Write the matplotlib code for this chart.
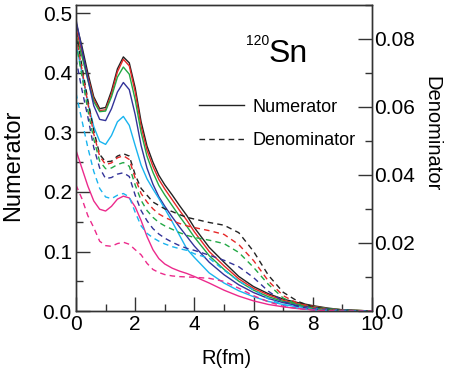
import matplotlib.pyplot as plt
from matplotlib.lines import Line2D
from matplotlib.ticker import MultipleLocator

plt.rcParams['font.family'] = ['Liberation Sans', 'DejaVu Sans']

# radius grid (fm)
r = [0, 0.2, 0.4, 0.6, 0.8, 1.0, 1.2, 1.4, 1.6, 1.8, 2.0, 2.2, 2.4, 2.6, 2.8, 3.0,
     3.25, 3.5, 3.75, 4.0, 4.5, 5.0, 5.5, 6.0, 6.5, 7.0, 7.5, 8.0, 8.5, 9.0, 9.5, 10.0]

colors = ['#222222', '#e62828', '#22a845', '#333399', '#19b4ef', '#ec2a8c']

# numerator curves (left axis)
num_black = [0.485, 0.445, 0.400, 0.360, 0.340, 0.342, 0.370, 0.407, 0.427, 0.417, 0.375, 0.318,
             0.277, 0.250, 0.228, 0.212, 0.195, 0.177, 0.160, 0.140, 0.107, 0.082, 0.058, 0.041,
             0.029, 0.020, 0.014, 0.009, 0.005, 0.002, 0.001, 0.0]
num_red = [0.475, 0.435, 0.393, 0.356, 0.337, 0.338, 0.365, 0.402, 0.423, 0.412, 0.368, 0.310,
           0.270, 0.243, 0.221, 0.205, 0.187, 0.169, 0.152, 0.133, 0.100, 0.076, 0.054, 0.038,
           0.027, 0.018, 0.012, 0.008, 0.004, 0.002, 0.001, 0.0]
num_green = [0.465, 0.428, 0.388, 0.352, 0.335, 0.336, 0.360, 0.393, 0.410, 0.398, 0.355, 0.300,
             0.260, 0.233, 0.211, 0.195, 0.177, 0.159, 0.142, 0.124, 0.093, 0.070, 0.050, 0.035,
             0.024, 0.016, 0.011, 0.007, 0.004, 0.002, 0.001, 0.0]
num_navy = [0.490, 0.440, 0.390, 0.345, 0.322, 0.320, 0.340, 0.368, 0.384, 0.372, 0.330, 0.278,
            0.240, 0.213, 0.192, 0.176, 0.158, 0.141, 0.125, 0.109, 0.082, 0.061, 0.044, 0.031,
            0.021, 0.014, 0.009, 0.006, 0.003, 0.0015, 0.0005, 0.0]
num_cyan = [0.450, 0.400, 0.350, 0.310, 0.285, 0.280, 0.295, 0.318, 0.327, 0.312, 0.278, 0.245,
            0.222, 0.205, 0.189, 0.172, 0.150, 0.127, 0.104, 0.090, 0.064, 0.047, 0.034, 0.024,
            0.016, 0.011, 0.007, 0.004, 0.002, 0.001, 0.0005, 0.0]
num_magenta = [0.270, 0.240, 0.210, 0.185, 0.171, 0.168, 0.176, 0.188, 0.193, 0.190, 0.175, 0.152,
               0.125, 0.103, 0.088, 0.079, 0.072, 0.067, 0.063, 0.058, 0.047, 0.035, 0.025, 0.017,
               0.011, 0.007, 0.004, 0.002, 0.001, 0.0005, 0.0002, 0.0]

# denominator curves (right axis)
den_black = [0.082, 0.072, 0.062, 0.053, 0.046, 0.0438, 0.044, 0.0455, 0.0462, 0.0455, 0.040, 0.036,
             0.034, 0.032, 0.031, 0.030, 0.0292, 0.0283, 0.0275, 0.027, 0.026, 0.0252, 0.023, 0.0175,
             0.0105, 0.0055, 0.0028, 0.0012, 0.0005, 0.0002, 0.0001, 0.0]
den_red = [0.081, 0.071, 0.061, 0.052, 0.0455, 0.043, 0.0435, 0.045, 0.0456, 0.0445, 0.039, 0.0345,
           0.032, 0.030, 0.0285, 0.0275, 0.0265, 0.0257, 0.025, 0.0245, 0.0236, 0.0225, 0.0195, 0.0148,
           0.0088, 0.0045, 0.0022, 0.001, 0.0004, 0.0002, 0.0001, 0.0]
den_green = [0.079, 0.069, 0.059, 0.0505, 0.044, 0.0418, 0.042, 0.043, 0.0436, 0.0425, 0.037, 0.0325,
             0.0295, 0.0275, 0.026, 0.025, 0.024, 0.023, 0.0222, 0.0216, 0.0208, 0.0198, 0.0172, 0.0128,
             0.0078, 0.0038, 0.0018, 0.0008, 0.0003, 0.0001, 0.0, 0.0]
den_navy = [0.074, 0.065, 0.057, 0.048, 0.042, 0.0389, 0.0392, 0.0402, 0.0406, 0.0395, 0.034, 0.0295,
            0.0265, 0.0242, 0.0226, 0.0214, 0.0202, 0.0192, 0.0184, 0.0178, 0.0164, 0.0149, 0.013, 0.0098,
            0.0058, 0.0028, 0.0013, 0.0006, 0.0002, 0.0001, 0.0, 0.0]
den_cyan = [0.064, 0.056, 0.048, 0.041, 0.036, 0.0335, 0.033, 0.034, 0.0345, 0.0335, 0.029, 0.025,
            0.0228, 0.0215, 0.0205, 0.0197, 0.0189, 0.0183, 0.0178, 0.0168, 0.0155, 0.012, 0.0088, 0.0062,
            0.0036, 0.0018, 0.0008, 0.0003, 0.0001, 0.0, 0.0, 0.0]
den_magenta = [0.037, 0.033, 0.028, 0.0245, 0.0205, 0.0192, 0.019, 0.0198, 0.0202, 0.0196, 0.018, 0.0165,
               0.014, 0.0122, 0.0113, 0.0107, 0.0103, 0.0101, 0.010, 0.0099, 0.0096, 0.0087, 0.0067, 0.0045,
               0.0027, 0.0014, 0.0007, 0.0003, 0.0001, 0.0, 0.0, 0.0]

numerators = [num_black, num_red, num_green, num_navy, num_cyan, num_magenta]
denominators = [den_black, den_red, den_green, den_navy, den_cyan, den_magenta]

fig = plt.figure(figsize=(4.51, 3.79), dpi=100)
ax = fig.add_axes([0.1685, 0.1794, 0.6563, 0.8086])
ax2 = ax.twinx()

for c, yn, yd in zip(colors, numerators, denominators):
    ax.plot(r, yn, color=c, lw=1.0)
    ax2.plot(r, yd, color=c, lw=1.0, dashes=(4, 3))

ax.set_xlim(0, 10)
ax.set_ylim(0, 0.515)
ax2.set_ylim(0, 0.09)

ax.xaxis.set_major_locator(MultipleLocator(2))
ax.xaxis.set_minor_locator(MultipleLocator(1))
ax.yaxis.set_major_locator(MultipleLocator(0.1))
ax.yaxis.set_minor_locator(MultipleLocator(0.05))
ax2.yaxis.set_major_locator(MultipleLocator(0.02))
ax2.yaxis.set_minor_locator(MultipleLocator(0.01))
ax.yaxis.set_major_formatter(plt.FuncFormatter(lambda v, p: f'{v:.1f}'))
ax2.yaxis.set_major_formatter(plt.FuncFormatter(lambda v, p: '0.0' if v == 0 else f'{v:.2f}'))

for a in (ax, ax2):
    a.tick_params(which='both', direction='in', width=1.0, color='#333333', labelsize=15)
    a.tick_params(which='major', length=10)
    a.tick_params(which='minor', length=5)
    for s in a.spines.values():
        s.set_linewidth(1.0)
        s.set_color('#333333')
ax.tick_params(axis='both', which='both', top=False, right=False, pad=3)
ax2.tick_params(axis='y', which='both', left=False, right=True, pad=1.5)

ax.set_xlabel('R(fm)', fontsize=14.5)
ax.set_ylabel('Numerator', fontsize=17)
ax2.set_ylabel('Denominator', fontsize=14.5, rotation=270, va='center', ha='center')
ax.xaxis.set_label_coords(0.507, -0.125)
ax.yaxis.set_label_coords(-0.175, 0.476)
ax2.yaxis.set_label_coords(1.203, 0.578)

# nucleus label
ax.text(0.576, 0.904, '120', transform=ax.transAxes, fontsize=10, va='top', ha='left')
ax.text(0.652, 0.812, 'Sn', transform=ax.transAxes, fontsize=23, va='baseline', ha='left')

handles = [Line2D([], [], color='#222222', lw=1.0),
           Line2D([], [], color='#222222', lw=1.0, dashes=(4, 3))]
ax2.legend(handles, ['Numerator', 'Denominator'], loc='upper left',
           bbox_to_anchor=(0.36, 0.746), frameon=False, fontsize=13,
           handlelength=2.5, handletextpad=0.45, labelspacing=0.9)

fig.savefig('out.png', dpi=100)
